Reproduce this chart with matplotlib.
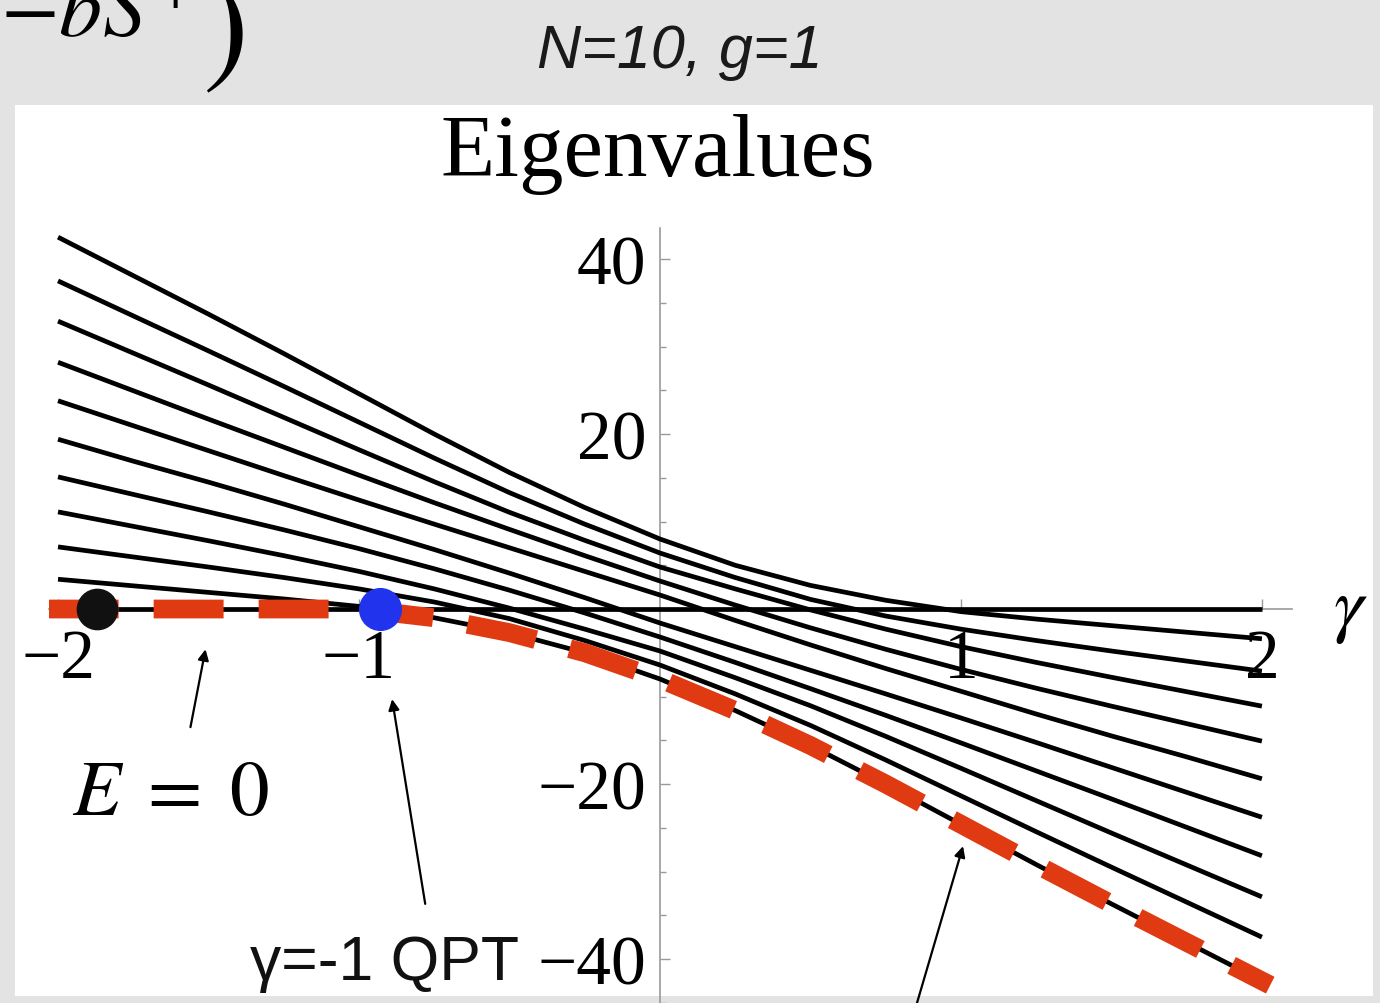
import numpy as np
import matplotlib
matplotlib.use("Agg")
import matplotlib.pyplot as plt
from matplotlib.patches import Rectangle
from matplotlib.ticker import MultipleLocator

plt.rcParams['mathtext.fontset'] = 'stix'

# coupling values at which the spectrum is tabulated
gamma = [-2.0, -1.75, -1.5, -1.25, -1.0, -0.75, -0.5, -0.25, 0.0,
         0.25, 0.5, 0.75, 1.0, 1.25, 1.5, 1.75, 2.0]

# eigenvalue branches, lowest to highest at gamma = -2
level_0 = [0.0] * 17
level_1 = [3.4, 2.65, 1.9, 1.15, 0.3, -1.0, -2.7, -5.0, -8.0, -11.6, -15.6, -20.0, -24.6, -29.2, -33.7, -38.1, -42.5]
level_2 = [7.1, 5.95, 4.8, 3.6, 2.3, 0.8, -1.1, -3.6, -6.4, -9.7, -13.3, -17.25, -21.35, -25.45, -29.5, -33.5, -37.5]
level_3 = [11.1, 9.45, 7.8, 6.1, 4.3, 2.3, 0.1, -2.3, -4.8, -7.85, -11.05, -14.55, -18.2, -21.9, -25.6, -29.25, -32.9]
level_4 = [15.1, 13.1, 11.1, 9.05, 6.9, 4.6, 2.15, -0.45, -3.2, -6.1, -9.1, -12.15, -15.3, -18.5, -21.7, -24.95, -28.2]
level_5 = [19.4, 16.9, 14.5, 12.0, 9.4, 6.8, 4.1, 1.3, -1.6, -4.3, -7.0, -9.7, -12.45, -15.25, -18.1, -20.95, -23.8]
level_6 = [23.8, 20.95, 18.1, 15.25, 12.45, 9.7, 7.0, 4.3, 1.6, -1.3, -4.1, -6.8, -9.4, -12.0, -14.5, -16.9, -19.4]
level_7 = [28.2, 24.95, 21.7, 18.5, 15.3, 12.15, 9.1, 6.1, 3.2, 0.45, -2.15, -4.6, -6.9, -9.05, -11.1, -13.1, -15.1]
level_8 = [32.9, 29.25, 25.6, 21.9, 18.2, 14.55, 11.05, 7.85, 4.8, 2.3, -0.1, -2.3, -4.3, -6.1, -7.8, -9.45, -11.1]
level_9 = [37.5, 33.5, 29.5, 25.45, 21.35, 17.25, 13.3, 9.7, 6.4, 3.6, 1.1, -0.8, -2.3, -3.6, -4.8, -5.95, -7.1]
level_10 = [42.5, 38.1, 33.7, 29.2, 24.6, 20.0, 15.6, 11.6, 8.0, 5.0, 2.7, 1.0, -0.3, -1.15, -1.9, -2.65, -3.4]

levels = [level_0, level_1, level_2, level_3, level_4, level_5,
          level_6, level_7, level_8, level_9, level_10]

# marked points on the E = 0 line
point_black = (-1.87, 0.0)
point_blue = (-0.93, 0.0)

x_ticks = [-2, -1, 1, 2]
x_tick_labels = ["\u22122", "\u22121", "1", "2"]
y_ticks = [-40, -20, 20, 40]
y_tick_labels = ["\u221240", "\u221220", "20", "40"]

W, H = 1380, 1004
fig = plt.figure(figsize=(W / 100, H / 100), dpi=100)
fig.patch.set_facecolor('#e3e3e3')

# white slide panel
fig.add_artist(Rectangle((15 / W, (H - 997) / H), (1373 - 15) / W, (997 - 106) / H,
                         transform=fig.transFigure, facecolor='white',
                         edgecolor='none', zorder=0))

ax = fig.add_axes([49 / W, (H - 1003.75) / H, (1292 - 49) / W, (1003.75 - 229.4) / H])
ax.set_facecolor('none')
ax.set_xlim(-2.03, 2.10)
ax.set_ylim(-45.0, 43.5)

for lev in levels:
    ax.plot(gamma, lev, color='black', lw=3.4, solid_capstyle='butt',
            solid_joinstyle='round', zorder=3)

# ground state: lowest branch at each coupling, thick dashed
ground = np.min(np.array(levels), axis=0)
ax.plot(gamma, ground, color='#e03a12', lw=13.5, dashes=(2.73, 2.87),
        dash_capstyle='projecting', zorder=4)

ax.plot(*point_black, 'o', color='#111111', ms=29, zorder=5)
ax.plot(*point_blue, 'o', color='#2233ee', ms=30, zorder=5)

# axes through the origin
for side in ['top', 'right']:
    ax.spines[side].set_visible(False)
ax.spines['left'].set_position(('data', 0))
ax.spines['bottom'].set_position(('data', 0))
for side in ['left', 'bottom']:
    ax.spines[side].set_color('#999999')
    ax.spines[side].set_linewidth(1.2)
    ax.spines[side].set_zorder(2)

serif = 'Liberation Serif'
ax.set_xticks(x_ticks)
ax.set_xticklabels(x_tick_labels, fontfamily=serif, fontsize=50)
ax.set_yticks(y_ticks)
ax.set_yticklabels(y_tick_labels, fontfamily=serif, fontsize=50)
ax.yaxis.set_minor_locator(MultipleLocator(5))
ax.tick_params(axis='x', direction='in', length=7, width=1, color='#999999', pad=14)
ax.tick_params(axis='y', direction='in', length=7, width=1, color='#999999', pad=10)
ax.tick_params(axis='y', which='minor', direction='in', length=4, width=1, color='#999999')
for lab in ax.get_xticklabels() + ax.get_yticklabels():
    lab.set_zorder(6)

fig.text(658 / W, 1 - 176 / H, 'Eigenvalues', fontfamily=serif, fontsize=64,
         ha='center', va='baseline')

fig.text(1350 / W, 1 - 610 / H, r'$\gamma$', fontsize=54, ha='center', va='center')
fig.text(72 / W, 1 - 815 / H, r'$E\;=\;0$', fontsize=57, ha='left', va='baseline')
fig.text(680 / W, 1 - 68 / H, 'N=10, g=1', fontfamily='Liberation Sans',
         style='italic', fontsize=44, ha='center', va='baseline', color='#1a1a1a')
fig.text(519 / W, 1 - 980 / H, '\u03b3=-1 QPT', fontfamily='Liberation Sans',
         fontsize=45, ha='right', va='baseline', color='#111111')

# fragment of the slide's formula above the panel
fig.text(0 / W, 1 - 36 / H, r'$-bS^{+}$', fontsize=62, ha='left', va='baseline')
fig.text(202 / W, 1 - 68 / H, r'$)$', fontsize=100, ha='left', va='baseline')

arrow = dict(arrowstyle='-|>', color='black', lw=1.6, mutation_scale=16,
             shrinkA=0, shrinkB=0)
ax.annotate('', xy=(-1.51, -4.6), xytext=(-1.56, -13.5), arrowprops=arrow, zorder=6)
ax.annotate('', xy=(-0.89, -10.3), xytext=(-0.78, -33.7), arrowprops=arrow, zorder=6)
ax.annotate('', xy=(1.007, -27.1), xytext=(0.85, -45.5), arrowprops=arrow, zorder=6,
            annotation_clip=False)

fig.savefig('out.png', dpi=100, facecolor=fig.get_facecolor())
